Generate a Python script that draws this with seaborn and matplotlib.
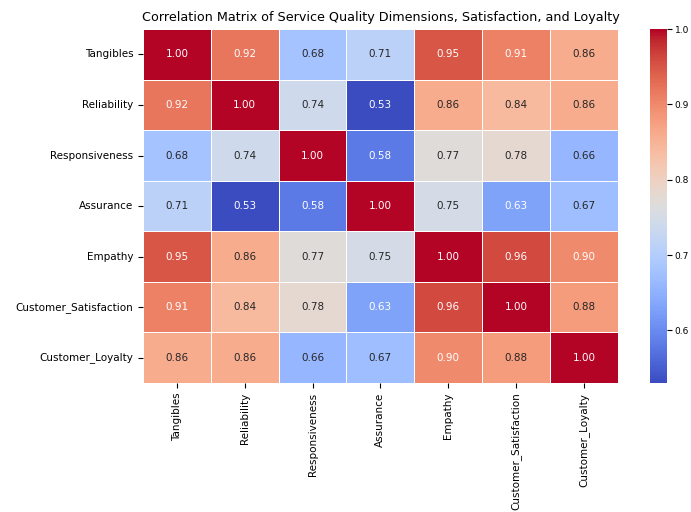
import numpy as np
import pandas as pd
import matplotlib
matplotlib.use("Agg")
import matplotlib.pyplot as plt
import seaborn as sns

# =========================
# DATA
# =========================
dimensions = [
    "Tangibles",
    "Reliability",
    "Responsiveness",
    "Assurance",
    "Empathy",
    "Customer_Satisfaction",
    "Customer_Loyalty",
]

tangibles      = [1.00, 0.92, 0.68, 0.71, 0.95, 0.91, 0.86]
reliability    = [0.92, 1.00, 0.74, 0.53, 0.86, 0.84, 0.86]
responsiveness = [0.68, 0.74, 1.00, 0.58, 0.77, 0.78, 0.66]
assurance      = [0.71, 0.53, 0.58, 1.00, 0.75, 0.63, 0.67]
empathy        = [0.95, 0.86, 0.77, 0.75, 1.00, 0.96, 0.90]
satisfaction   = [0.91, 0.84, 0.78, 0.63, 0.96, 1.00, 0.88]
loyalty        = [0.86, 0.86, 0.66, 0.67, 0.90, 0.88, 1.00]

corr = pd.DataFrame(
    [tangibles, reliability, responsiveness, assurance, empathy, satisfaction, loyalty],
    index=dimensions,
    columns=dimensions,
)

# =========================
# FIGURE
# =========================
fig = plt.figure(figsize=(6.91, 5.12), dpi=100)
ax = fig.add_axes([0.207, 0.252, 0.687, 0.691])
cax = fig.add_axes([0.940, 0.252, 0.025, 0.691])

sns.heatmap(
    corr,
    annot=True,
    fmt=".2f",
    cmap="coolwarm",
    linewidths=0.5,
    linecolor="white",
    annot_kws={"fontsize": 7.5},
    ax=ax,
    cbar_ax=cax,
)

ax.set_title(
    "Correlation Matrix of Service Quality Dimensions, Satisfaction, and Loyalty",
    fontsize=9.2,
)
ax.tick_params(axis="x", labelsize=7.5)
ax.tick_params(axis="y", labelsize=7.5)
plt.setp(ax.get_xticklabels(), rotation=90)
plt.setp(ax.get_yticklabels(), rotation=0)
cax.tick_params(labelsize=6.5, pad=2)

fig.savefig("out.png", dpi=100)
